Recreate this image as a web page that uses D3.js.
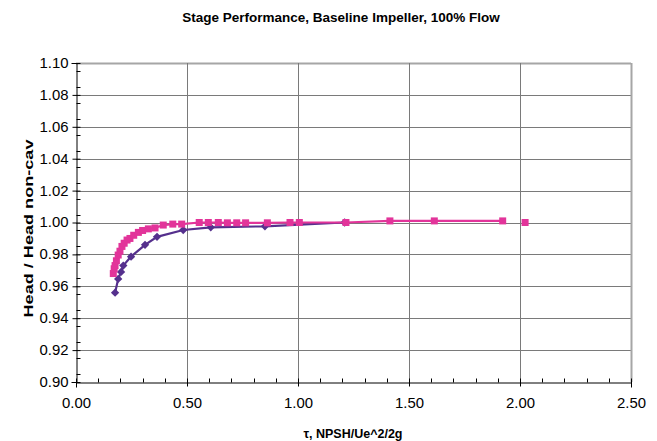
<!DOCTYPE html>
<html>
<head>
<meta charset="utf-8">
<script src="https://cdn.jsdelivr.net/npm/d3@7"></script>
<style>
  body { margin: 0; background: #fff; }
  text { font-family: "Liberation Sans", Arial, sans-serif; }
</style>
</head>
<body>
<div id="chart"></div>
<script>
// data
const titleText = "Stage Performance, Baseline Impeller, 100% Flow";
const xLabel = "\u03c4, NPSH/Ue^2/2g";
const yLabel = "Head / Head non-cav";

const xTicks = [0, 0.5, 1.0, 1.5, 2.0, 2.5];
const yTicks = [0.90, 0.92, 0.94, 0.96, 0.98, 1.00, 1.02, 1.04, 1.06, 1.08, 1.10];

// purple diamonds
const purpleTau = [0.176, 0.19, 0.203, 0.213, 0.248, 0.311, 0.365, 0.483, 0.607, 0.851, 1.21];
const purpleHead = [0.956, 0.9646, 0.969, 0.973, 0.9786, 0.986, 0.991, 0.9953, 0.997, 0.9976, 1.000];

// pink squares
const pinkTau = [0.168, 0.172, 0.176, 0.182, 0.19, 0.198, 0.207, 0.217, 0.23, 0.243, 0.26, 0.281,
  0.30, 0.326, 0.356, 0.393, 0.436, 0.476, 0.555, 0.596, 0.641, 0.682, 0.724, 0.764, 0.862,
  0.964, 1.006, 1.216, 1.414, 1.614, 1.922, 2.023];
const pinkHead = [0.968, 0.971, 0.973, 0.976, 0.9796, 0.982, 0.985, 0.987, 0.989, 0.990, 0.992, 0.9938,
  0.995, 0.996, 0.9966, 0.9984, 0.999, 0.999, 1.0, 1.0, 1.0, 0.9998, 0.9998, 0.9998, 0.9998,
  1.0, 1.0, 1.0, 1.001, 1.001, 1.001, 1.000];

const W = 657, H = 441;
const margin = { top: 63, right: 26, bottom: 59, left: 76 };
const width = W - margin.left - margin.right;
const height = H - margin.top - margin.bottom;

const svg = d3.select("#chart").append("svg")
  .attr("width", W).attr("height", H)
  .style("background", "#fff");

const g = svg.append("g").attr("transform", `translate(${margin.left},${margin.top})`);

const x = d3.scaleLinear().domain([0, 2.5]).range([0, width]);
const y = d3.scaleLinear().domain([0.9, 1.1]).range([height, 0]);

// gridlines
g.append("g").selectAll("line").data(yTicks.slice(1)).enter().append("line")
  .attr("x1", 0).attr("x2", width)
  .attr("y1", d => Math.round(y(d)) + 0.5).attr("y2", d => Math.round(y(d)) + 0.5)
  .attr("stroke", d => d === 1.1 ? "#a6a6a6" : "#7a7a7a").attr("stroke-width", d => d === 1.1 ? 2 : 1);
g.append("g").selectAll("line").data(xTicks.slice(1)).enter().append("line")
  .attr("y1", 0).attr("y2", height)
  .attr("x1", d => Math.round(x(d)) + 0.5).attr("x2", d => Math.round(x(d)) + 0.5)
  .attr("stroke", d => d === 2.5 ? "#a6a6a6" : "#7a7a7a").attr("stroke-width", d => d === 2.5 ? 2 : 1);

// axes
const yAxis = g.append("g").attr("transform", "translate(0.5,0)");
yAxis.call(d3.axisLeft(y).tickValues(yTicks).tickFormat(d3.format(".2f")).tickSize(5).tickPadding(3));
yAxis.selectAll(".tick line").attr("x2", 4).attr("x1", -4);
yAxis.append("g").selectAll("line").data(d3.range(0.905, 1.1, 0.01)).enter().append("line")
  .attr("x1", 0).attr("x2", 4)
  .attr("y1", d => Math.round(y(d)) + 0.5).attr("y2", d => Math.round(y(d)) + 0.5)
  .attr("stroke", "#000");

const xAxis = g.append("g").attr("transform", `translate(0,${height + 0.5})`);
xAxis.call(d3.axisBottom(x).tickValues(xTicks).tickFormat(d3.format(".2f")).tickSize(5).tickPadding(11));
xAxis.selectAll(".tick line").attr("y1", -4).attr("y2", 4);
xAxis.append("g").selectAll("line").data(d3.range(0.1, 2.5, 0.1).filter(v => Math.abs(v * 2 - Math.round(v * 2)) > 1e-6))
  .enter().append("line")
  .attr("y1", 0).attr("y2", -4)
  .attr("x1", d => Math.round(x(d)) + 0.5).attr("x2", d => Math.round(x(d)) + 0.5)
  .attr("stroke", "#000");

[yAxis, xAxis].forEach(a => {
  a.select(".domain").attr("stroke", "#000");
  a.selectAll(".tick line").attr("stroke", "#000");
  a.selectAll(".tick text").attr("font-size", "14px").attr("fill", "#000")
    .attr("textLength", 29).attr("lengthAdjust", "spacingAndGlyphs")
    .style("font-family", "'Liberation Sans', Arial, sans-serif");
});

// series
const purple = purpleTau.map((t, i) => ({ t, v: purpleHead[i] }));
const pink = pinkTau.map((t, i) => ({ t, v: pinkHead[i] }));

const line = d3.line().x(d => x(d.t)).y(d => y(d.v));

g.append("path").datum(purple).attr("d", line)
  .attr("fill", "none").attr("stroke", "#55308d").attr("stroke-width", 2.2);
g.selectAll(".dia").data(purple).enter().append("path")
  .attr("d", d3.symbol().type(d3.symbolDiamond2).size(44))
  .attr("transform", d => `translate(${x(d.t)},${y(d.v)})`)
  .attr("fill", "#55308d");

g.append("path").datum(pink.slice(0, -1)).attr("d", line)
  .attr("fill", "none").attr("stroke", "#e2349a").attr("stroke-width", 2.2);
g.selectAll(".sq").data(pink).enter().append("rect")
  .attr("x", d => x(d.t) - 3.5).attr("y", d => y(d.v) - 3.5)
  .attr("width", 7).attr("height", 7)
  .attr("fill", "#e2349a");

// titles
svg.append("text").attr("x", 341).attr("y", 22).attr("text-anchor", "middle")
  .attr("font-size", "13.5px").attr("font-weight", "bold").text(titleText);
svg.append("text").attr("x", 353).attr("y", 438).attr("text-anchor", "middle")
  .attr("font-size", "12.5px").attr("font-weight", "bold").text(xLabel);
svg.append("text").attr("transform", `translate(33,${margin.top + height / 2 + 6}) rotate(-90)`)
  .attr("text-anchor", "middle").attr("font-size", "12.5px").attr("font-weight", "bold")
  .attr("textLength", 178).attr("lengthAdjust", "spacingAndGlyphs").text(yLabel);
</script>
</body>
</html>
